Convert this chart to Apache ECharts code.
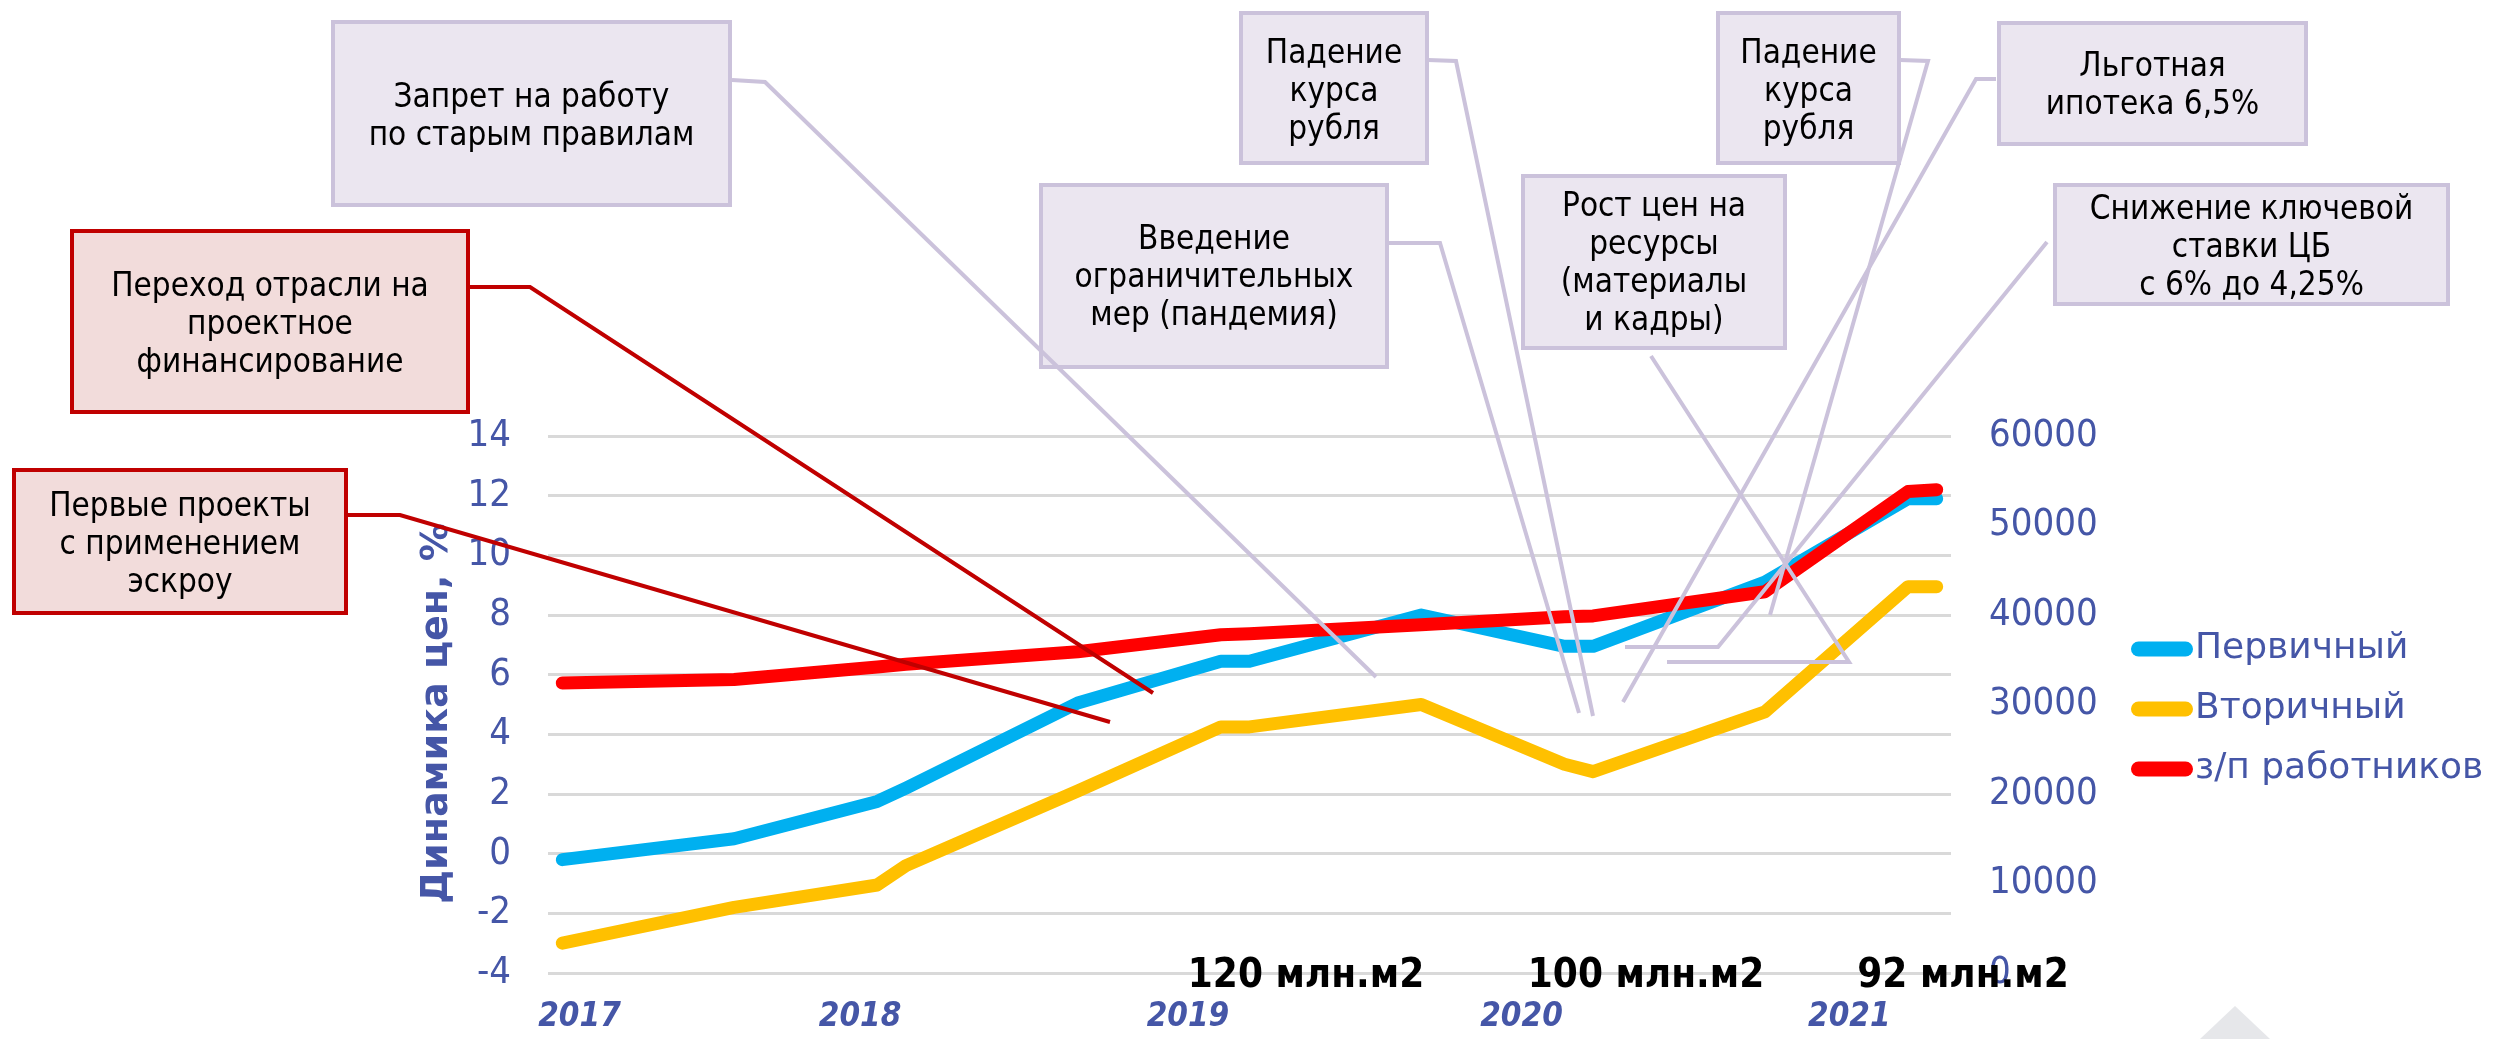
<!DOCTYPE html>
<html lang="ru">
<head>
<meta charset="utf-8">
<title>Динамика цен</title>
<script src="https://cdn.jsdelivr.net/npm/echarts@6.0.0/dist/echarts.min.js"></script>
<style>
  html, body { margin: 0; padding: 0; background: #fff; }
  #chart { width: 2494px; height: 1039px; }
</style>
</head>
<body>
<div id="chart"></div>
<script>
// months since Jan 2017
const months = [0, 6, 11, 12, 18, 23, 24, 30, 35, 36, 42, 47, 48];
const primary = [-0.2, 0.5, 1.75, 2.2, 5.05, 6.45, 6.45, 8.0, 6.95, 6.95, 9.1, 11.9, 11.9];
const secondary = [-3.0, -1.8, -1.05, -0.4, 2.1, 4.25, 4.25, 5.0, 3.0, 2.75, 4.75, 8.95, 8.95];
const salary = [32400, 32800, 34200, 34500, 35900, 37800, 37900, 38900, 39800, 39900, 42600, 53800, 54000];

const seriesNames = ['Первичный', 'Вторичный', 'з/п работников'];
const yearLabels = ['2017', '2018', '2019', '2020', '2021'];
const yearLabelAt = [0.6, 10.4, 21.85, 33.5, 44.95];
const volumeLabels = ['120 млн.м2', '100 млн.м2', '92 млн.м2'];

const BLUE_TEXT = '#4556A7';
const FONT = '"DejaVu Sans", Verdana, sans-serif';
const NARROW = '"DejaVu Sans Condensed", "DejaVu Sans", sans-serif';

function pairs(xs, ys) {
  return xs.map(function (x, i) { return [x, ys[i]]; });
}

// callout boxes with their leader lines
const callouts = [
  { lines: ['Запрет на работу', 'по старым правилам'], box: [333, 22, 397, 183], ty: 117,
    leader: [[732, 80], [765, 82], [1376, 677]], kind: 'lilac' },
  { lines: ['Переход отрасли на', 'проектное', 'финансирование'], box: [72, 231, 396, 181], ty: 325,
    leader: [[470, 287], [530, 287], [1153, 693]], kind: 'red' },
  { lines: ['Первые проекты', 'с применением', 'эскроу'], box: [14, 470, 332, 143], ty: 545,
    leader: [[348, 515], [400, 515], [1110, 722]], kind: 'red' },
  { lines: ['Введение', 'ограничительных', 'мер (пандемия)'], box: [1041, 185, 346, 182], ty: 278,
    leader: [[1389, 243], [1440, 243], [1579, 713]], kind: 'lilac' },
  { lines: ['Падение', 'курса', 'рубля'], box: [1241, 13, 186, 150], ty: 92,
    leader: [[1428, 60], [1456, 61], [1593, 716]], kind: 'lilac' },
  { lines: ['Рост цен на', 'ресурсы', '(материалы', 'и кадры)'], box: [1523, 176, 262, 172], ty: 264,
    leader: [[1651, 356], [1849, 662], [1667, 662]], kind: 'lilac' },
  { lines: ['Падение', 'курса', 'рубля'], box: [1718, 13, 181, 150], ty: 92,
    leader: [[1900, 60], [1928, 61], [1770, 615]], kind: 'lilac' },
  { lines: ['Льготная', 'ипотека 6,5%'], box: [1999, 23, 307, 121], ty: 86,
    leader: [[1996, 79], [1976, 79], [1623, 702]], kind: 'lilac' },
  { lines: ['Снижение ключевой', 'ставки ЦБ', 'с 6% до 4,25%'], box: [2055, 185, 393, 119], ty: 248,
    leader: [[2047, 242], [1718, 647], [1625, 647]], kind: 'lilac' }
];

const boxStyles = {
  lilac: { fill: '#EBE6F0', stroke: '#CBC2DB', line: '#CBC2DB' },
  red: { fill: '#F2DCDB', stroke: '#C00000', line: '#C00000' }
};

function buildGraphics() {
  const els = [];
  callouts.forEach(function (c) {
    const st = boxStyles[c.kind];
    els.push({
      type: 'rect', z: 100,
      shape: { x: c.box[0], y: c.box[1], width: c.box[2], height: c.box[3] },
      style: { fill: st.fill, stroke: st.stroke, lineWidth: 4 }
    });
    els.push({
      type: 'text', z: 101,
      x: c.box[0] + c.box[2] / 2, y: c.ty,
      style: {
        text: c.lines.join('\n'), fill: '#000', font: '33px ' + NARROW,
        align: 'center', verticalAlign: 'middle', textAlign: 'center',
        textVerticalAlign: 'middle', lineHeight: 38
      }
    });
  });
  callouts.forEach(function (c) {
    els.push({
      type: 'polyline', z: 102,
      shape: { points: c.leader },
      style: { stroke: boxStyles[c.kind].line, lineWidth: 4, fill: null }
    });
  });
  const volX = [1306, 1646, 1963];
  volumeLabels.forEach(function (t, i) {
    els.push({
      type: 'text', z: 103, x: volX[i], y: 977,
      style: {
        text: t, fill: '#000', font: 'bold 40px ' + NARROW,
        align: 'center', verticalAlign: 'middle', textAlign: 'center', textVerticalAlign: 'middle'
      }
    });
  });
  // faint logo corner at bottom right
  els.push({
    type: 'polygon', z: 1,
    shape: { points: [[2200, 1039], [2235, 1006], [2270, 1039]] },
    style: { fill: '#E6E7EA' }
  });
  return els;
}

const roundBar = 'path://M7.5,0 H54.5 A7.5,7.5 0 0 1 54.5,15 H7.5 A7.5,7.5 0 0 1 7.5,0 Z';

const lineCommon = {
  type: 'line', showSymbol: false, smooth: false,
  lineStyle: { width: 13, cap: 'round', join: 'round' }
};

const option = {
  backgroundColor: '#fff',
  animation: false,
  color: ['#00B0F0', '#FFC000', '#FF0000'],
  grid: { left: 548, right: 543, top: 436, bottom: 66, containLabel: false },
  legend: {
    orient: 'vertical', left: 2126, top: 624,
    itemWidth: 64, itemHeight: 15, itemGap: 20,
    icon: roundBar,
    data: seriesNames,
    textStyle: { color: BLUE_TEXT, fontSize: 36, fontFamily: FONT, lineHeight: 40, padding: [0, 0, 0, -4] }
  },
  xAxis: {
    type: 'value', min: -0.5, max: 48.5,
    axisLine: { show: false }, axisTick: { show: false }, splitLine: { show: false },
    axisLabel: {
      customValues: yearLabelAt,
      formatter: function (v) {
        const i = yearLabelAt.indexOf(v);
        return i >= 0 ? yearLabels[i] : '';
      },
      color: BLUE_TEXT, fontSize: 33, fontWeight: 'bold', fontStyle: 'italic',
      fontFamily: NARROW, margin: 28
    }
  },
  yAxis: [
    {
      type: 'value', min: -4, max: 14, interval: 2,
      name: 'Динамика цен, %', nameLocation: 'middle', nameGap: 78,
      nameTextStyle: {
        color: BLUE_TEXT, fontSize: 38, fontWeight: 'bold', fontFamily: FONT,
        padding: [0, 18, 0, 0]
      },
      axisLine: { show: false }, axisTick: { show: false },
      splitLine: { lineStyle: { color: '#D9D9D9', width: 3 } },
      axisLabel: { color: BLUE_TEXT, fontSize: 38, fontFamily: NARROW, margin: 37 }
    },
    {
      type: 'value', min: 0, max: 60000, interval: 10000, position: 'right',
      axisLine: { show: false }, axisTick: { show: false }, splitLine: { show: false },
      axisLabel: {
        color: BLUE_TEXT, fontSize: 38, fontFamily: NARROW, margin: 38,
        formatter: function (v) { return String(v); }
      }
    }
  ],
  series: [
    Object.assign({}, lineCommon, { name: seriesNames[0], z: 3, data: pairs(months, primary) }),
    Object.assign({}, lineCommon, { name: seriesNames[1], z: 3, data: pairs(months, secondary) }),
    Object.assign({}, lineCommon, { name: seriesNames[2], z: 4, yAxisIndex: 1, data: pairs(months, salary) })
  ],
  graphic: buildGraphics()
};

const chart = echarts.init(document.getElementById('chart'), null, { renderer: 'canvas' });
chart.setOption(option);
</script>
</body>
</html>
